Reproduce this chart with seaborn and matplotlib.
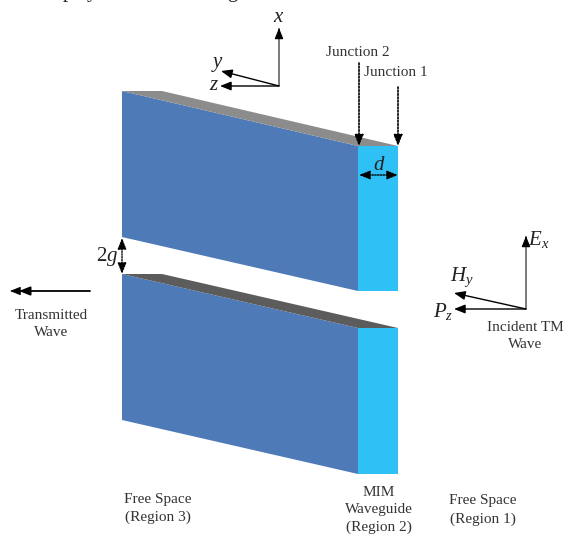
import numpy as np
import matplotlib
matplotlib.use('Agg')
import matplotlib.pyplot as plt
import seaborn as sns
from matplotlib.patches import Polygon

sns.set_theme(style='white')
plt.rcParams['font.family'] = ['Liberation Serif', 'DejaVu Serif']
plt.rcParams['mathtext.fontset'] = 'custom'
plt.rcParams['mathtext.it'] = 'Liberation Serif:italic'
plt.rcParams['mathtext.rm'] = 'Liberation Serif'

W, H = 563, 536

# panels of the slit, pixel positions
upper_front = [(122, 91), (358, 146), (358, 291), (122, 237)]
upper_side = [(358, 146), (398, 146), (398, 291), (358, 291)]
upper_top = [(122, 91), (162, 91), (398, 146), (358, 146)]
lower_front = [(122, 274), (358, 328), (358, 474), (122, 420)]
lower_side = [(358, 328), (398, 328), (398, 474), (358, 474)]
lower_top = [(122, 274), (162, 274), (398, 328), (358, 328)]

panels = [upper_front, upper_side, upper_top, lower_front, lower_side, lower_top]
panel_colors = ['#4f7ab8', '#2fc0f5', '#8c8c8c', '#4f7ab8', '#2fc0f5', '#5c5c5c']

# arrows: start, end
grey_arrows = [((279, 86), (279, 28)), ((526, 309), (526, 236))]
thin_arrows = [((279, 86), (221, 71)), ((279, 86), (220, 86)),
               ((526, 309), (454, 293)), ((526, 309), (454, 309))]
dotted_arrows = [((359, 63), (359, 146)), ((398, 87), (398, 146))]
double_dotted = [((359, 175), (398, 175)), ((122, 238), (122, 274))]

labels = [
    (358, 53, 'Junction 2'),
    (396, 73, 'Junction 1'),
    (51, 324, 'Transmitted\nWave'),
    (525, 336, 'Incident TM\nWave'),
    (158, 508.5, 'Free Space\n(Region 3)'),
    (379, 510, 'MIM\nWaveguide\n(Region 2)'),
    (483, 510, 'Free Space\n(Region 1)'),
]
symbols = [
    (279, 18, r'$x$'),
    (218, 65, r'$y$'),
    (214, 86, r'$z$'),
    (379, 165, r'$d$'),
    (107, 257, r'$2g$'),
    (539, 240, r'$E_x$'),
    (462, 277, r'$H_y$'),
    (443, 311, r'$P_z$'),
]
# bottoms of the cropped line of text above the figure
cut_text = [(68, 'p'), (92, 'y'), (232, 'g')]

fig = plt.figure(figsize=(W / 100, H / 100), dpi=100)
ax = fig.add_axes([0, 0, 1, 1])
ax.set_xlim(0, W)
ax.set_ylim(H, 0)
ax.axis('off')

for pts, col in zip(panels, panel_colors):
    ax.add_patch(Polygon(pts, closed=True, facecolor=col, edgecolor='none'))


def arrow(start, end, color='black', lw=1.0, ls='-', style='-|>'):
    ax.annotate('', xy=end, xytext=start,
                arrowprops=dict(arrowstyle=style + ',head_length=0.55,head_width=0.22',
                                color=color, lw=lw, ls=ls,
                                shrinkA=0, shrinkB=0, mutation_scale=12))


for s, e in grey_arrows:
    ax.plot([s[0], e[0]], [s[1], e[1]], color='#7a7a7a', lw=1.4, solid_capstyle='butt')
    # black head on the grey shaft
    arrow((e[0], e[1] + 10), e, lw=0.8)
for s, e in thin_arrows:
    arrow(s, e)
for s, e in dotted_arrows:
    arrow(s, e, lw=1.2, ls=(0, (1, 1)))
for s, e in double_dotted:
    arrow(s, e, lw=1.0, ls=(0, (1, 1)), style='<|-|>')

# transmitted wave has two heads
arrow((90, 291), (19, 291), lw=1.3)
arrow((30, 291), (10, 291), lw=0.6)

for x, y, txt in labels:
    ax.text(x, y, txt, ha='center', va='center', fontsize=11, color='#333333', linespacing=1.45)
for x, y, txt in symbols:
    ax.text(x, y, txt, ha='center', va='center', fontsize=15, color='#222222')
for x, txt in cut_text:
    ax.text(x, -3.5, txt, ha='center', va='baseline', fontsize=15, color='#222222', clip_on=True)

fig.savefig('out.png', dpi=100, facecolor='white')
